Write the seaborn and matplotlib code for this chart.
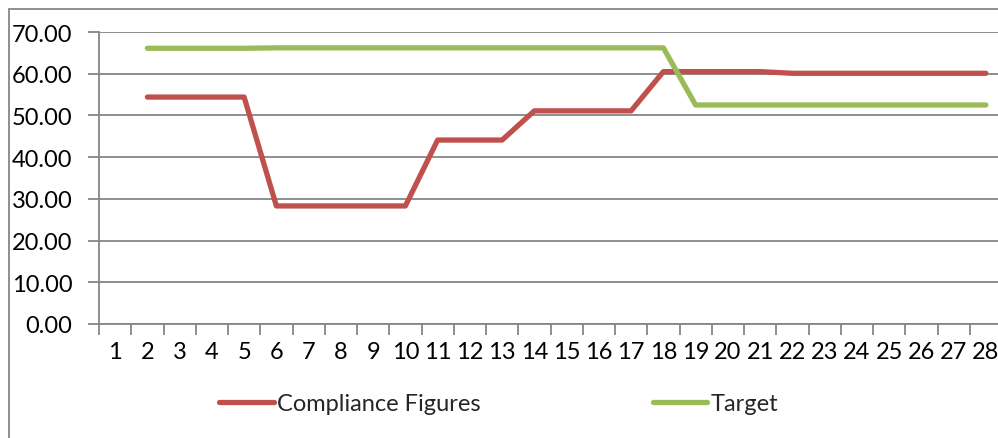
import matplotlib
matplotlib.use("Agg")
import matplotlib.pyplot as plt
import seaborn as sns
import pandas as pd
import numpy as np
from matplotlib.patches import Rectangle
from matplotlib.lines import Line2D
from matplotlib.ticker import FixedLocator

days = list(range(1, 29))
compliance = [np.nan, 54.4, 54.4, 54.4, 54.4, 28.3, 28.3, 28.3, 28.3, 28.3,
              44.1, 44.1, 44.1, 51.1, 51.1, 51.1, 51.1, 60.5, 60.5, 60.5,
              60.5, 60.1, 60.1, 60.1, 60.1, 60.1, 60.1, 60.1]
target = [np.nan, 66.1, 66.1, 66.1, 66.1, 66.2, 66.2, 66.2, 66.2, 66.2,
          66.2, 66.2, 66.2, 66.2, 66.2, 66.2, 66.2, 66.2, 52.5, 52.5,
          52.5, 52.5, 52.5, 52.5, 52.5, 52.5, 52.5, 52.5]
series_names = ["Compliance Figures", "Target"]
colors = ["#C0504D", "#9BBB59"]

df = pd.DataFrame({
    "day": days * 2,
    "value": compliance + target,
    "series": [series_names[0]] * len(days) + [series_names[1]] * len(days),
})

sns.set_theme(style="white")
plt.rcParams['font.family'] = ['Lato', 'DejaVu Sans']

W, H = 998, 439
fig = plt.figure(figsize=(W / 100, H / 100), dpi=100)
left, right, top, bottom = 99, 1002, 33, 325
ax = fig.add_axes([left / W, (H - bottom) / H, (right - left) / W, (bottom - top) / H])

sns.lineplot(data=df.dropna(), x="day", y="value", hue="series", palette=colors,
             linewidth=3.8, ax=ax, legend=False, solid_capstyle="round")

grey = "#868686"
fs = 17
ax.set_xlim(0.5, 28.5)
ax.set_ylim(0, 70)
ax.set_yticks(np.arange(0, 71, 10))
ax.set_yticklabels([f"{v:.2f}" for v in np.arange(0, 71, 10)])
ax.yaxis.grid(True, color=grey, linewidth=1.3)
ax.set_axisbelow(True)
ax.set_xticks(days)
ax.set_xticklabels([str(d) for d in days])
ax.xaxis.set_minor_locator(FixedLocator(np.arange(0.5, 29, 1)))
ax.tick_params(axis="x", which="major", length=0, pad=12, labelsize=fs, colors="black")
ax.tick_params(axis="x", which="minor", length=8, width=1.3, color=grey, direction="out", bottom=True)
ax.tick_params(axis="y", which="major", length=8, width=1.3, color=grey, direction="out",
               left=True, pad=11, labelsize=fs, labelcolor="black")
for s in ["top", "right"]:
    ax.spines[s].set_visible(False)
for s in ["left", "bottom"]:
    ax.spines[s].set_color(grey)
    ax.spines[s].set_linewidth(1.3)
ax.set_xlabel("")
ax.set_ylabel("")

# outer chart border
fig.patches.append(Rectangle((9 / W, -0.1), 1.1, (H - 10) / H + 0.1, transform=fig.transFigure,
                             fill=False, edgecolor=grey, linewidth=1.3))

handles = [Line2D([0], [0], color=c, linewidth=3.8, solid_capstyle="round") for c in colors]
fig.legend(handles, series_names, loc="center", bbox_to_anchor=(0.5, (H - 405) / H),
           ncol=2, frameon=False, fontsize=fs, handlelength=2.3, handletextpad=0.15,
           columnspacing=7.3)

fig.savefig("out.png", dpi=100)
